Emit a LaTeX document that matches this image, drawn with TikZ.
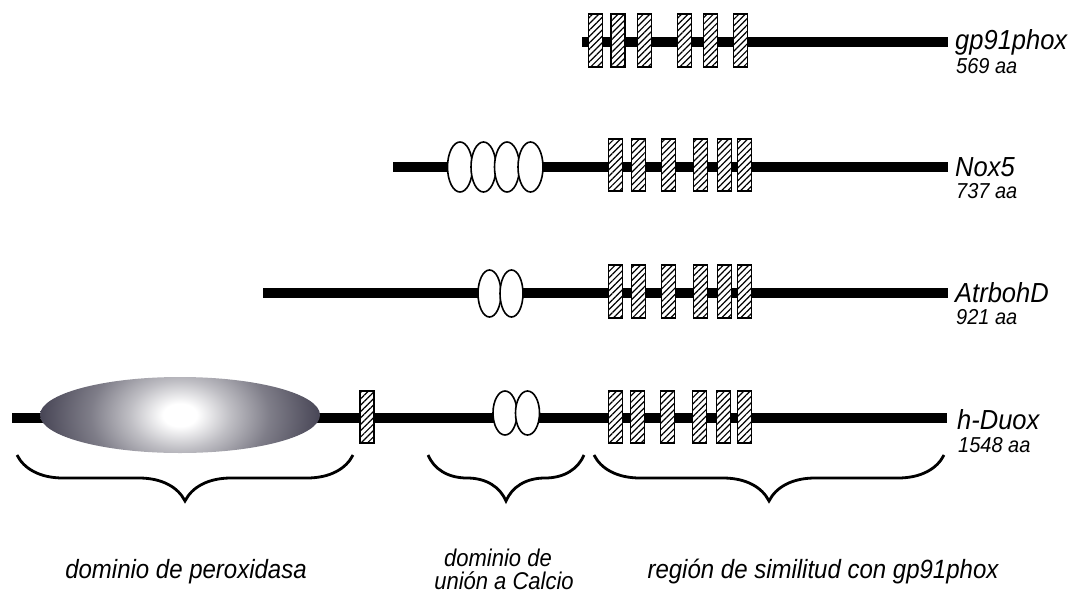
\documentclass[tikz,border=0pt]{standalone}
\usepackage{fontspec}
\setmainfont{Liberation Sans}
\usetikzlibrary{patterns.meta,shapes.geometric,decorations.pathreplacing}
\definecolor{pdark}{RGB}{72,70,86}
\pgfdeclareradialshading{peroxr}{\pgfpoint{0bp}{0bp}}{color(0bp)=(white); color(3bp)=(white); color(9bp)=(pdark!35!white); color(16bp)=(pdark!70!white); color(25bp)=(pdark); color(50bp)=(pdark)}
\tikzset{
  backbone/.style={line width=10pt},
  tmbox/.style={rectangle, draw, line width=1.4pt, minimum width=14, minimum height=52, inner sep=0pt,
    preaction={fill=white}, pattern={Lines[angle=45,distance=4.5pt,line width=1.2pt]}},
  cabox/.style={ellipse, draw, line width=1.6pt, fill=white, inner sep=0pt, minimum width=24, minimum height=48},
  protname/.style={anchor=west, inner sep=0pt, font=\fontsize{25.5}{25.5}\selectfont\itshape, yscale=1.08, transform shape},
  protlen/.style={anchor=west, inner sep=0pt, font=\fontsize{20}{20}\selectfont\itshape, yscale=1.08, transform shape},
  domlabel/.style={anchor=base, inner sep=0pt, font=\fontsize{24}{24}\selectfont\itshape, yscale=1.1, transform shape},
  dombrace/.style={decorate, decoration={brace, mirror, amplitude=46pt}, line width=2.8pt}
}
\begin{document}
\begin{tikzpicture}[x=1pt,y=-1pt]
\useasboundingbox (0,0) rectangle (1075,594);
% ---------- gp91phox
\coordinate (g1) at (582,42); \coordinate (g2) at (948,42);
\draw[backbone] (g1) -- (g2);
\foreach \x [count=\i] in {595.5,618,644.5,684.5,710.5,740.5}
  \node[tmbox, minimum height=53] (gtm\i) at (\x,40.5) {};
\node[protname] (gname) at (955,42) {gp91phox};
\node[protlen] (glen) at (956,66) {569 aa};
% ---------- Nox5
\coordinate (n1) at (393,167); \coordinate (n2) at (948,167);
\draw[backbone] (n1) -- (n2);
\foreach \x [count=\i] in {460,483.5,507,530.5}
  \node[cabox, minimum width=25, minimum height=50] (nca\i) at (\x,167) {};
\foreach \x [count=\i] in {615.5,638.5,668.5,700.5,724.5,744.5}
  \node[tmbox] (ntm\i) at (\x,165) {};
\node[protname] (nname) at (955,167) {Nox5};
\node[protlen] (nlen) at (956,191) {737 aa};
% ---------- AtrbohD
\coordinate (a1) at (263,293); \coordinate (a2) at (948,293);
\draw[backbone] (a1) -- (a2);
\foreach \x [count=\i] in {489.5,511.5}
  \node[cabox, minimum width=23, minimum height=47] (aca\i) at (\x,293.5) {};
\foreach \x [count=\i] in {615.5,638.5,668.5,700.5,724.5,744.5}
  \node[tmbox, minimum height=53] (atm\i) at (\x,291.5) {};
\node[protname] (aname) at (955,293) {AtrbohD};
\node[protlen] (alen) at (956,317) {921 aa};
% ---------- h-Duox
\coordinate (d1) at (12,418); \coordinate (d2) at (947,418);
\draw[backbone] (d1) -- (d2);
\node[ellipse, inner sep=0pt, minimum width=280, minimum height=76] (perox) at (180,415) {};
\begin{scope}
  \clip (perox.center) ellipse [x radius=140, y radius=38];
  \shade[shading=peroxr] (perox.center) ++(-140,-95) rectangle ++(280,190);
\end{scope}
\node[tmbox] (dtm0) at (367,417) {};
\foreach \x [count=\i] in {505,527.5}
  \node[cabox, minimum width=24, minimum height=44] (dca\i) at (\x,413) {};
\foreach \x [count=\i] in {615.5,637.5,667.5,699.5,723.5,744.5}
  \node[tmbox] (dtm\i) at (\x,417) {};
\node[protname] (dname) at (957,420) {h-Duox};
\node[protlen] (dlen) at (958,445) {1548 aa};
% ---------- braces
\coordinate (b1a) at (17,455); \coordinate (b1b) at (353,455);
\coordinate (b2a) at (428,455); \coordinate (b2b) at (584,455);
\coordinate (b3a) at (594,455); \coordinate (b3b) at (944,455);
\draw[dombrace] (b1a) -- (b1b);
\draw[dombrace] (b2a) -- (b2b);
\draw[dombrace] (b3a) -- (b3b);
% ---------- domain labels
\node[domlabel] (l1) at (186,578) {dominio de peroxidasa};
\node[domlabel, font=\fontsize{22}{22}\selectfont\itshape] (l2a) at (498,566) {dominio de};
\node[domlabel, font=\fontsize{22}{22}\selectfont\itshape] (l2b) at (504,589) {unión a Calcio};
\node[domlabel] (l3) at (823,578) {región de similitud con gp91phox};
\end{tikzpicture}
\end{document}
